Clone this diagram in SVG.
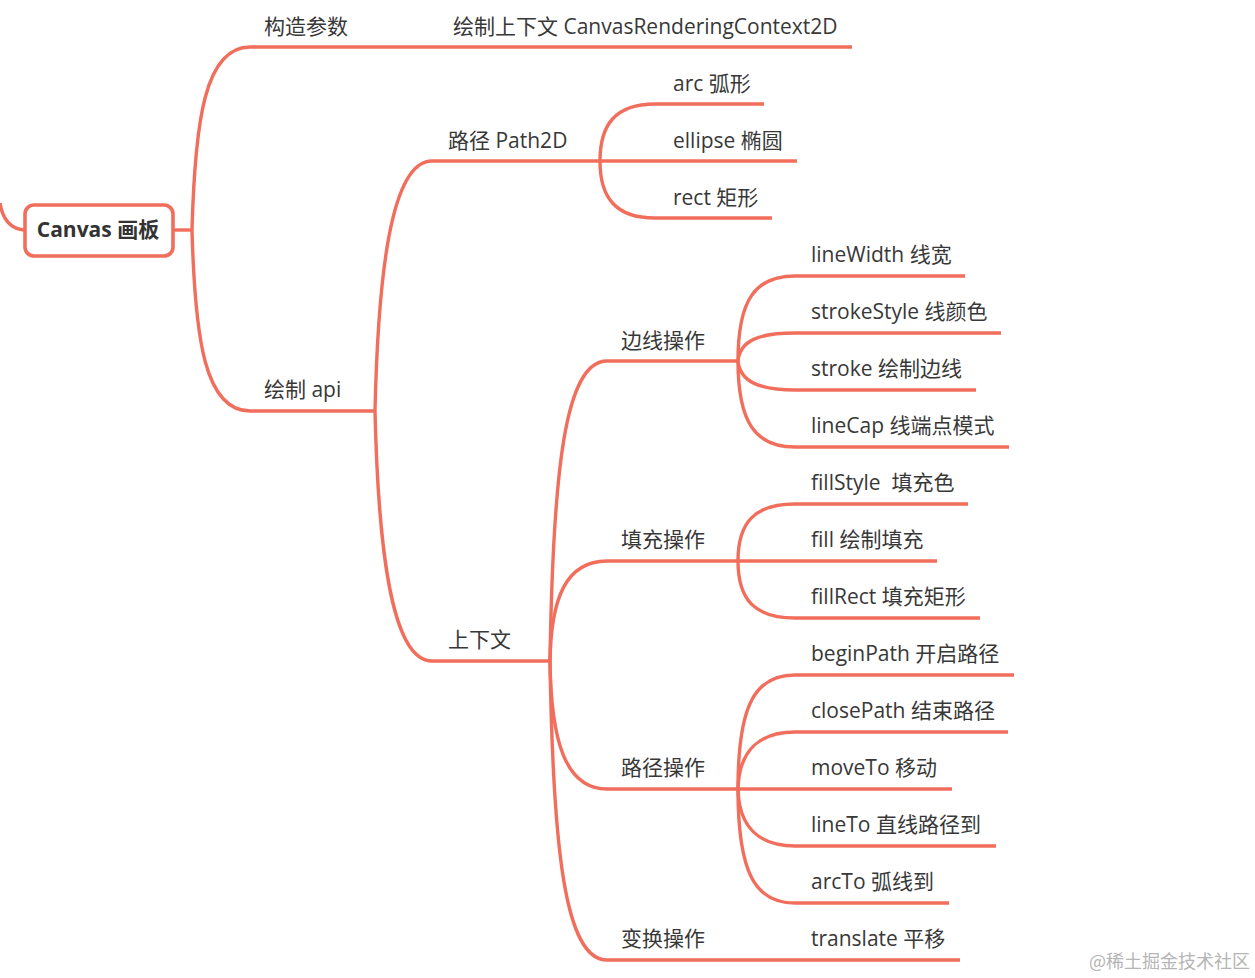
<svg xmlns="http://www.w3.org/2000/svg" width="1255" height="978" viewBox="0 0 1255 978">
<style>
.c{fill:none;stroke:#F26E5C;stroke-width:3.4;stroke-linecap:butt}
.t{font-family:"Open Sans","Noto Sans CJK SC",sans-serif;font-size:21px;fill:#383838}
.r{font-family:"Open Sans","Noto Sans CJK SC",sans-serif;font-size:21px;font-weight:bold;fill:#333}
.w{font-family:"Noto Sans CJK SC",sans-serif;font-size:18px;fill:#b5b5b5}
</style>
<rect width="1255" height="978" fill="#fff"/>
<g id="connectors">
<path class="c" d="M0,203 Q4,228 24,230"/>
<path class="c" d="M174,230 H192"/>
<path class="c" d="M192,230 C195,120 205,47 250,47 H852"/>
<path class="c" d="M192,230 C195,340 205,411 250,411 H375"/>
<path class="c" d="M375,411 C378,280 390,161 432,161 H600"/>
<path class="c" d="M375,411 C378,540 390,661 432,661 H550"/>
<path class="c" d="M600,161 C600,125 615,104 655,104 H764"/>
<path class="c" d="M600,161 H797"/>
<path class="c" d="M600,161 C600,197 615,218 655,218 H772"/>
<path class="c" d="M550,661 C553,470 565,361 607,361 H738"/>
<path class="c" d="M550,661 C551,600 565,561 607,561 H738"/>
<path class="c" d="M550,661 C551,740 565,789 607,789 H738"/>
<path class="c" d="M550,661 C553,850 565,960 607,960 H960"/>
<path class="c" d="M738,361 C738,300 755,276 795,276 H965"/>
<path class="c" d="M738,361 C740,340 760,333 795,333 H1001"/>
<path class="c" d="M738,361 C740,382 760,390 795,390 H976"/>
<path class="c" d="M738,361 C738,422 755,447 795,447 H1009"/>
<path class="c" d="M738,561 C738,522 755,504 795,504 H968"/>
<path class="c" d="M738,561 H937"/>
<path class="c" d="M738,561 C738,600 755,618 795,618 H980"/>
<path class="c" d="M738,789 C738,705 755,675 795,675 H1014"/>
<path class="c" d="M738,789 C739,750 760,732 795,732 H1008"/>
<path class="c" d="M738,789 H952"/>
<path class="c" d="M738,789 C739,828 760,846 795,846 H996"/>
<path class="c" d="M738,789 C738,873 755,903 795,903 H949"/>
</g>
<g id="root">
<rect x="25" y="205" width="148" height="51" rx="9" fill="#fff" stroke="#F26E5C" stroke-width="3.6"/>
<text class="r" x="98" y="237" text-anchor="middle">Canvas 画板</text>
</g>
<g id="n-gouzao"><text class="t" x="264" y="34">构造参数</text></g>
<g id="n-context2d"><text class="t" x="453" y="34">绘制上下文 CanvasRenderingContext2D</text></g>
<g id="n-api"><text class="t" x="264" y="397">绘制 api</text></g>
<g id="n-path2d"><text class="t" x="448" y="148">路径 Path2D</text></g>
<g id="n-arc"><text class="t" x="673" y="91">arc 弧形</text></g>
<g id="n-ellipse"><text class="t" x="673" y="148">ellipse 椭圆</text></g>
<g id="n-rect"><text class="t" x="673" y="205">rect 矩形</text></g>
<g id="n-ctx"><text class="t" x="448" y="647">上下文</text></g>
<g id="n-stroke-ops"><text class="t" x="621" y="348">边线操作</text></g>
<g id="n-fill-ops"><text class="t" x="621" y="547">填充操作</text></g>
<g id="n-path-ops"><text class="t" x="621" y="775">路径操作</text></g>
<g id="n-trans-ops"><text class="t" x="621" y="946">变换操作</text></g>
<g id="n-linewidth"><text class="t" x="811" y="262">lineWidth 线宽</text></g>
<g id="n-strokestyle"><text class="t" x="811" y="319">strokeStyle 线颜色</text></g>
<g id="n-stroke"><text class="t" x="811" y="376">stroke 绘制边线</text></g>
<g id="n-linecap"><text class="t" x="811" y="433">lineCap 线端点模式</text></g>
<g id="n-fillstyle"><text class="t" x="811" y="490" xml:space="preserve">fillStyle  填充色</text></g>
<g id="n-fill"><text class="t" x="811" y="547">fill 绘制填充</text></g>
<g id="n-fillrect"><text class="t" x="811" y="604">fillRect 填充矩形</text></g>
<g id="n-beginpath"><text class="t" x="811" y="661">beginPath 开启路径</text></g>
<g id="n-closepath"><text class="t" x="811" y="718">closePath 结束路径</text></g>
<g id="n-moveto"><text class="t" x="811" y="775">moveTo 移动</text></g>
<g id="n-lineto"><text class="t" x="811" y="832">lineTo 直线路径到</text></g>
<g id="n-arcto"><text class="t" x="811" y="889">arcTo 弧线到</text></g>
<g id="n-translate"><text class="t" x="811" y="946">translate 平移</text></g>
<text class="w" x="1089" y="968">@稀土掘金技术社区</text>
</svg>
